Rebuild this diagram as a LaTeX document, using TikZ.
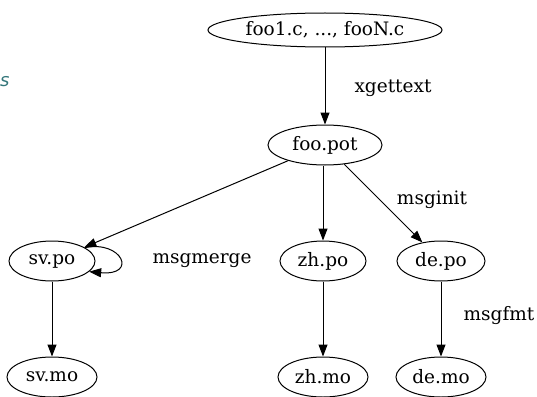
\documentclass[tikz,border=0pt]{standalone}
\usepackage{fontspec}
\setmainfont{DejaVu Serif}
\newfontfamily\marginfont{DejaVu Sans}
\usetikzlibrary{shapes.geometric,arrows.meta}
\definecolor{noteteal}{RGB}{52,118,122}
\begin{document}
\begin{tikzpicture}[x=1pt,y=-1pt,
  file/.style={draw,ellipse,line width=1pt,minimum height=40pt,inner sep=0pt,font=\fontsize{18.5}{20}\selectfont},
  edge/.style={draw,line width=1pt,-{Triangle[length=12pt,width=9pt]}},
  tool/.style={font=\fontsize{18.5}{20}\selectfont}]
\useasboundingbox (0,0) rectangle (537,396);
% margin note at the left edge
\node[text=noteteal,font=\marginfont\itshape\fontsize{18}{20}\selectfont,anchor=west,inner sep=0pt] (note) at (0,82) {s};
% source and template
\node[file,minimum width=234pt,minimum height=34pt] (src) at (325,30) {foo1.c, ..., fooN.c};
\node[file,minimum width=114pt] (pot) at (325,145) {foo.pot};
% translation catalogues
\node[file,minimum width=86pt] (svpo) at (52,261) {sv.po};
\node[file,minimum width=86pt] (zhpo) at (323,261) {zh.po};
\node[file,minimum width=88pt] (depo) at (441,261) {de.po};
% compiled catalogues
\node[file,minimum width=90pt] (svmo) at (52,377) {sv.mo};
\node[file,minimum width=90pt] (zhmo) at (323,377) {zh.mo};
\node[file,minimum width=90pt] (demo) at (441,377) {de.mo};
% tool labels
\node[tool] (xgt) at (393,88) {xgettext};
\node[tool] (mini) at (432,200) {msginit};
\node[tool] (mmrg) at (202,261) {msgmerge};
\node[tool] (mfmt) at (499,316) {msgfmt};
% edges
\draw[edge] (src) -- (pot);
\draw[edge] (pot) -- (svpo);
\draw[edge] (pot.south -| zhpo) -- (zhpo);
\draw[edge] (pot) -- (depo);
\draw[edge] (svpo.22) .. controls (122,240) and (138,276) .. (svpo.-16);
\draw[edge] (svpo) -- (svmo);
\draw[edge] (zhpo) -- (zhmo);
\draw[edge] (depo) -- (demo);
\end{tikzpicture}
\end{document}
